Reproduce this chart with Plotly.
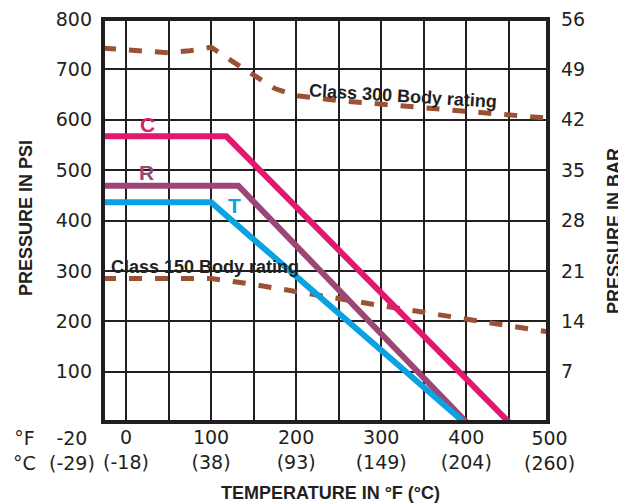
import plotly.graph_objects as go

# ---------------- data ----------------
temp_c_curve = [-27, 118, 450]
psi_c_curve = [567, 567, 0]
temp_r_curve = [-27, 132, 400]
psi_r_curve = [469, 469, 0]
temp_t_curve = [-27, 100, 397]
psi_t_curve = [436, 436, 0]

temp_class300 = [-27, 20, 50, 75, 100, 125, 150, 175, 200, 250, 300, 350, 400, 450, 496]
psi_class300 = [742, 735, 733, 737, 744, 716, 688, 662, 648, 638, 631, 624, 617, 609, 603]
temp_class150 = [-27, 50, 100, 150, 200, 250, 300, 350, 400, 450, 496]
psi_class150 = [285, 285, 285, 273, 260, 245, 231, 217, 203, 191, 179]

x_tick_vals = [0, 50, 100, 150, 200, 250, 300, 350, 400, 450]
x_tick_text = ["0<br>(-18)", "", "100<br>(38)", "", "200<br>(93)", "",
               "300<br>(149)", "", "400<br>(204)", ""]
y_tick_vals = [100, 200, 300, 400, 500, 600, 700, 800]
y_tick_text = ["100", "200", "300", "400", "500", "600", "700", "800"]
bar_tick_vals = [7, 14, 21, 28, 35, 42, 49, 56]
bar_tick_text = ["7", "14", "21", "28", "35", "42", "49", "56"]

# ---------------- style ----------------
DARK = "#231F20"
PINK = "#E0196F"
PURPLE = "#9B4676"
BLUE = "#0AA2E0"
BROWN = "#9B5234"
TICKFONT = dict(family="DejaVu Sans", size=19, color=DARK)
TITLEFONT = dict(family="Liberation Sans, Arial", size=18, color=DARK)

OFF = 8  # page body margin
L, R, T, B = 103 - OFF, 548 - OFF, 19 - OFF, 422 - OFF
W, H = 626, 504


def px(x):
    return (x - OFF - L) / (R - L)


def py(y):
    return (B - (y - OFF)) / (B - T)


fig = go.Figure()
dash = "13px,13px"
fig.add_trace(go.Scatter(x=temp_class300, y=psi_class300, mode="lines",
                         line=dict(color=BROWN, width=5, dash=dash), showlegend=False))
fig.add_trace(go.Scatter(x=temp_class150, y=psi_class150, mode="lines",
                         line=dict(color=BROWN, width=5, dash=dash), showlegend=False))
fig.add_trace(go.Scatter(x=temp_c_curve, y=psi_c_curve, mode="lines",
                         line=dict(color=PINK, width=6), showlegend=False))
fig.add_trace(go.Scatter(x=temp_r_curve, y=psi_r_curve, mode="lines",
                         line=dict(color=PURPLE, width=6), showlegend=False))
fig.add_trace(go.Scatter(x=temp_t_curve, y=psi_t_curve, mode="lines",
                         line=dict(color=BLUE, width=6), showlegend=False))
fig.add_trace(go.Scatter(x=[], y=[], yaxis="y2", showlegend=False))

annotations = [
    dict(x=25, y=591, text="<b>C</b>", font=dict(family="Liberation Sans", size=21, color=PINK)),
    dict(x=24, y=495, text="<b>R</b>", font=dict(family="Liberation Sans", size=21, color=PURPLE)),
    dict(x=128, y=430, text="<b>T</b>", font=dict(family="Liberation Sans", size=21, color=BLUE)),
    dict(x=325, y=648, text="<b>Class 300 Body rating</b>", textangle=3.5,
         font=dict(family="Liberation Sans", size=18, color=DARK)),
    dict(x=93, y=308, text="<b>Class 150 Body rating</b>",
         font=dict(family="Liberation Sans", size=18, color=DARK)),
]
for a in annotations:
    a.update(xref="x", yref="y", showarrow=False, xanchor="center", yanchor="middle")

# extra x labels, degree units and axis titles (positions in screen pixels)
extra = [
    (72, 450, "-20<br>(-29)", 0, TICKFONT),
    (549, 450, "500<br>(260)", 0, TICKFONT),
    (24, 451, "°F<br>°C", 0, TICKFONT),
    (26, 218, "<b>PRESSURE IN PSI</b>", -90, TITLEFONT),
    (614, 231, "<b>PRESSURE IN BAR</b>", -90, TITLEFONT),
    (330, 493, "<b>TEMPERATURE IN °F (°C)</b>", 0, TITLEFONT),
]
for sx, sy, txt, ang, fnt in extra:
    annotations.append(dict(xref="paper", yref="paper", x=px(sx), y=py(sy), text=txt,
                            textangle=ang, showarrow=False, font=fnt,
                            xanchor="center", yanchor="middle"))

fig.update_layout(
    width=W, height=H,
    margin=dict(l=L, r=W - R, t=T, b=H - B, autoexpand=False),
    paper_bgcolor="white", plot_bgcolor="white",
    xaxis=dict(range=[-27, 496], tickvals=x_tick_vals, ticktext=x_tick_text,
               showgrid=True, gridcolor=DARK, gridwidth=1.5, zeroline=False,
               showline=False, ticks="", tickfont=TICKFONT, fixedrange=True,
               ticklabelstandoff=2, automargin=False, ticklabeloverflow="allow"),
    yaxis=dict(range=[0, 800], tickvals=y_tick_vals, ticktext=y_tick_text,
               showgrid=True, gridcolor=DARK, gridwidth=1.5, zeroline=False,
               showline=False, ticks="", tickfont=TICKFONT, ticklabelstandoff=10,
               automargin=False, ticklabeloverflow="allow"),
    yaxis2=dict(range=[0, 56], overlaying="y", side="right", tickvals=bar_tick_vals,
                ticktext=bar_tick_text, showgrid=False, zeroline=False, showline=False,
                ticks="", tickfont=TICKFONT, ticklabelstandoff=12, automargin=False,
                ticklabeloverflow="allow"),
    shapes=[dict(type="rect", xref="paper", yref="paper", x0=0, x1=1, y0=0, y1=1,
                 line=dict(color=DARK, width=4), layer="above")],
    annotations=annotations,
)

fig.write_html("out.html")
